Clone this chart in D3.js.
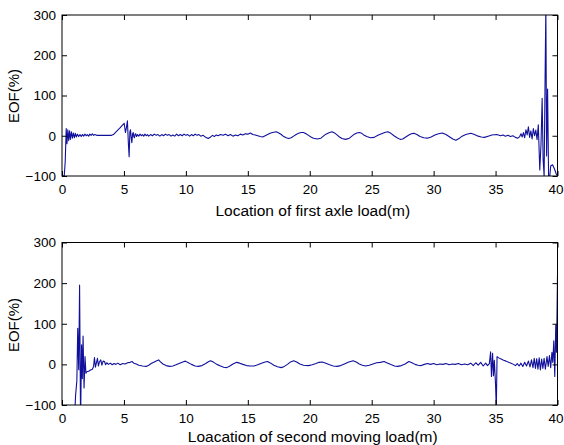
<!DOCTYPE html>
<html><head><meta charset="utf-8">
<script src="https://cdn.jsdelivr.net/npm/d3@7"></script>
<style>
body{margin:0;background:#fff;}
svg{display:block;font-family:"Liberation Sans",Arial,sans-serif;}
</style></head>
<body>
<svg id="chart" width="564" height="445"></svg>
<script>
// ---- data ----
const xTicks = [0,5,10,15,20,25,30,35,40];
const yTicks = [-100,0,100,200,300];
const titleA = "Location of first axle load(m)";
const titleB = "Loacation of second moving load(m)";
const yTitle = "EOF(%)";

const locA = [0,0.18,0.26,0.34,0.40,0.47,0.54,0.61,0.68,0.76,0.84,0.92,1.0,1.08,1.16,1.25,1.35,1.45,1.55,1.65,1.75,1.85,1.95,2.05,2.15,2.25,2.35,2.45,2.55,2.65,2.8,3.0,3.5,4.0,4.15,4.4,4.7,4.9,5.02,5.12,5.2,5.28,5.36,5.42,5.48,5.53,5.59,5.64,5.7,5.75,5.8,5.85,5.9,5.95,6.02,6.1,6.2,6.3,6.4,6.5,6.6,6.7,6.8,6.9,7.0,7.15,7.3,7.45,7.6,7.75,7.9,8.05,8.2,8.35,8.5,8.65,8.8,8.95,9.1,9.25,9.4,9.55,9.7,9.85,10.0,10.15,10.3,10.45,10.6,10.75,10.9,11.05,11.2,11.4,11.6,11.8,12.0,12.15,12.3,12.45,12.6,12.8,13.0,13.2,13.4,13.6,13.8,14.0,14.2,14.4,14.6,14.8,15.0,15.2,15.4,15.6,15.8,16.0,16.2,16.4,16.6,16.8,17.0,17.3,17.5,17.7,17.9,18.1,18.3,18.5,18.7,18.9,19.1,19.3,19.5,19.7,19.9,20.1,20.3,20.6,20.9,21.1,21.3,21.6,21.8,22.0,22.2,22.4,22.6,22.9,23.2,23.4,23.6,23.8,24.0,24.2,24.4,24.6,24.9,25.2,25.5,25.8,26.05,26.3,26.55,26.8,27.05,27.3,27.5,27.75,28.0,28.2,28.4,28.65,28.9,29.2,29.5,29.8,30.1,30.4,30.7,31.0,31.3,31.55,31.8,32.05,32.3,32.6,33.0,33.3,33.6,33.85,34.1,34.4,34.7,35.1,35.4,35.6,35.8,36.0,36.2,36.4,36.6,36.8,36.95,37.05,37.15,37.25,37.35,37.45,37.55,37.65,37.75,37.85,37.95,38.05,38.15,38.25,38.35,38.45,38.57,38.67,38.76,38.84,38.92,39.0,39.06,39.12,39.2,39.28,39.38,39.45,39.6,39.75,39.9,40.0];
const eofA = [-100,-100,-64,18,-20,15,-12,12,-9,10,-6,7,-5,6,-3,4,-2,3,-2,3,-1,4,0,3,-1,4,1,5,1,3,1,1,1,1,3,11,20,27,31,8,20,37,-20,-52,10,15,-5,-17,5,8,-3,-5,4,5,-2,3,-1,4,0,3,-1,4,0,3,-1,3,0,4,1,3,-1,3,0,4,1,3,-1,2,-1,4,0,3,0,4,1,3,-1,3,0,4,1,3,-1,1,-4,-7,-3,1,-2,2,0,3,1,4,0,3,-1,2,0,4,2,5,4,7,3,2,0,-2,-3,0,3,6,8,10,7,3,-2,-5,-7,-5,-1,3,6,8,8,5,1,-3,-6,-8,-6,-1,4,8,10,7,2,-3,-7,-9,-6,-1,4,7,8,6,1,-2,-5,-4,1,5,8,10,6,0,-5,-9,-8,-3,2,5,6,3,-2,-5,-6,-3,2,5,7,3,-3,-8,-11,-7,-1,3,6,3,-1,-3,-4,-1,2,3,0,2,-1,1,-2,0,-4,-6,-2,5,-3,8,-5,15,2,22,-4,12,-8,18,0,14,-10,27,-85,-20,93,-60,-100,150,320,-50,116,-100,-100,-75,-72,-82,-95,-100];

const locB = [1.0,1.1,1.2,1.27,1.35,1.42,1.5,1.58,1.64,1.7,1.78,1.86,1.93,2.0,2.15,2.3,2.45,2.55,2.62,2.7,2.78,2.86,2.94,3.02,3.13,3.22,3.32,3.43,3.52,3.62,3.75,3.9,4.05,4.2,4.35,4.5,4.7,4.9,5.1,5.3,5.5,5.65,5.8,6.0,6.2,6.5,6.8,7.0,7.2,7.45,7.65,7.8,7.95,8.15,8.4,8.7,8.95,9.2,9.5,9.75,9.96,10.2,10.45,10.75,11.0,11.3,11.6,11.85,12.0,12.25,12.5,12.8,13.05,13.3,13.55,13.8,14.1,14.35,14.6,14.9,15.2,15.5,15.8,16.1,16.4,16.6,16.85,17.1,17.4,17.7,17.95,18.2,18.45,18.7,18.95,19.2,19.5,19.9,20.2,20.5,20.75,21.0,21.3,21.6,21.9,22.2,22.5,22.8,23.1,23.3,23.5,23.75,24.0,24.25,24.5,24.8,25.1,25.4,25.7,26.0,26.3,26.6,26.85,27.1,27.4,27.7,28.0,28.25,28.5,28.75,29.0,29.25,29.5,29.75,30.0,30.25,30.5,30.75,31.0,31.25,31.5,31.75,32.0,32.25,32.5,32.75,33.0,33.2,33.4,33.6,33.8,34.0,34.2,34.35,34.5,34.6,34.67,34.76,34.83,34.9,35.0,35.06,35.12,35.25,35.45,35.65,35.85,36.05,36.25,36.45,36.6,36.75,36.9,37.05,37.2,37.35,37.5,37.65,37.78,37.9,38.02,38.12,38.22,38.32,38.42,38.52,38.62,38.72,38.82,38.92,39.02,39.15,39.25,39.35,39.45,39.55,39.62,39.7,39.78,39.86,39.92,40.0];
const eofB = [-140,-75,-40,89,-13,195,-140,48,-35,70,-58,19,-22,-18,-17,-14,-12,-5,17,-7,4,15,-4,6,11,-2,8,7,-1,4,0,3,-1,2,0,3,-1,2,1,4,5,7,3,1,-2,-4,-5,-2,2,6,9,11,6,1,-3,-5,-4,-1,3,6,8,4,0,-4,-5,-3,2,7,9,5,0,-4,-7,-8,-4,1,5,3,0,-3,-4,-4,-1,3,6,7,3,-2,-6,-8,-5,0,6,9,6,1,-2,-3,-1,2,5,6,3,-1,-4,-5,-3,1,5,7,9,6,1,-2,-4,-2,1,4,5,7,3,-1,-4,-5,-3,1,7,4,0,-2,-3,0,2,0,2,-1,1,0,2,-1,1,0,2,-1,1,-1,3,-3,4,-2,5,-4,3,-3,2,31,-30,27,-28,10,-50,-110,19,16,13,10,8,5,3,0,-3,2,-4,3,-5,5,-4,8,-6,11,-8,15,-10,14,-12,16,-14,13,-10,15,-12,19,-5,22,-8,30,5,58,-30,97,30,220];

// ---- drawing ----
const svg = d3.select("#chart");
const left = 62, right = 557.5;
const panels = [
  {loc: locA, eof: eofA, top: 15, bottom: 176, title: titleA, titleY: 216, yTitleY: 96},
  {loc: locB, eof: eofB, top: 242.5, bottom: 405, title: titleB, titleY: 442, yTitleY: 325}
];
const lineColor = "#10109c";

panels.forEach((p, i) => {
  const x = d3.scaleLinear().domain([0, 40]).range([left, right]);
  const y = d3.scaleLinear().domain([-100, 300]).range([p.bottom, p.top]);
  const g = svg.append("g");

  const clipId = "clip" + i;
  g.append("clipPath").attr("id", clipId).append("rect")
    .attr("x", left).attr("y", p.top).attr("width", right - left).attr("height", p.bottom - p.top);

  const pts = p.loc.map((v, k) => [v, p.eof[k]]);
  g.append("path").datum(pts)
    .attr("clip-path", `url(#${clipId})`)
    .attr("fill", "none").attr("stroke", lineColor).attr("stroke-width", 1.1)
    .attr("stroke-linejoin", "round")
    .attr("d", d3.line().x(d => x(d[0])).y(d => y(d[1])));

  const styleAxis = sel => {
    sel.select(".domain").remove();
    sel.selectAll(".tick line").attr("stroke", "#000");
    sel.selectAll("text").attr("fill", "#000").attr("font-size", 13.5);
  };

  const xAxisG = g.append("g").attr("transform", `translate(0,${p.bottom})`)
    .call(d3.axisBottom(x).tickValues(xTicks).tickSize(-5).tickPadding(8).tickFormat(d3.format("d")))
    .call(styleAxis);
  // keep the last label ("40") inside the page
  xAxisG.selectAll(".tick").filter(d => d === 40).select("text")
    .attr("text-anchor", "end").attr("x", 563 - right);

  g.append("g").attr("transform", `translate(0,${p.top})`)
    .call(d3.axisTop(x).tickValues(xTicks).tickSize(-5).tickFormat(""))
    .call(styleAxis);
  g.append("g").attr("transform", `translate(${left},0)`)
    .call(d3.axisLeft(y).tickValues(yTicks).tickSize(-5).tickPadding(6).tickFormat(d3.format("d")))
    .call(styleAxis);
  g.append("g").attr("transform", `translate(${right},0)`)
    .call(d3.axisRight(y).tickValues(yTicks).tickSize(-5).tickFormat(""))
    .call(styleAxis);

  g.append("rect").attr("x", left).attr("y", p.top)
    .attr("width", right - left).attr("height", p.bottom - p.top)
    .attr("fill", "none").attr("stroke", "#000").attr("stroke-width", 1);

  g.append("text").attr("x", (left + right) / 2 + 3).attr("y", p.titleY)
    .attr("text-anchor", "middle").attr("font-size", 15.5).attr("fill", "#000").text(p.title);

  g.append("text").attr("transform", `translate(19,${p.yTitleY}) rotate(-90)`)
    .attr("text-anchor", "middle").attr("font-size", 15).attr("fill", "#000").text(yTitle);
});
</script>
</body></html>
